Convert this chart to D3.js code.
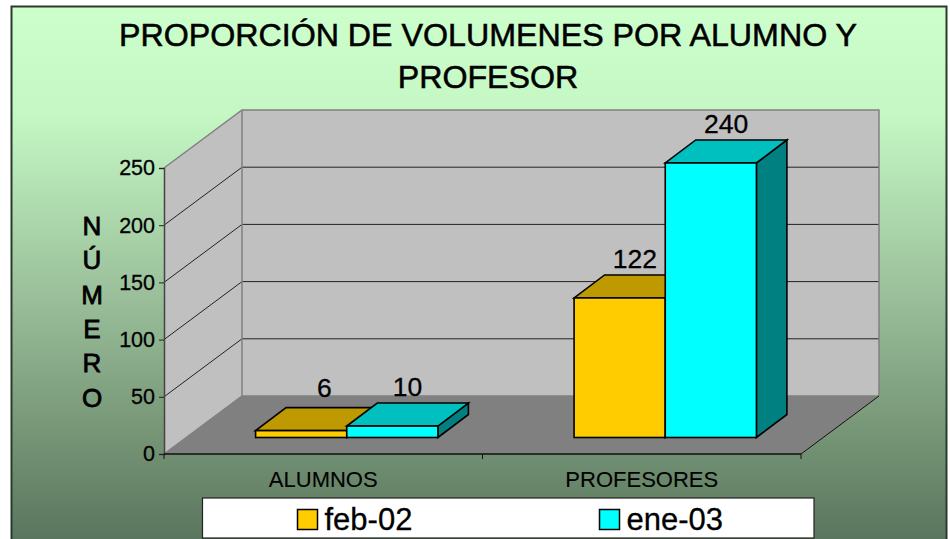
<!DOCTYPE html>
<html><head><meta charset="utf-8">
<script src="https://cdn.jsdelivr.net/npm/d3@7/dist/d3.min.js"></script>
<style>html,body{margin:0;padding:0;background:#fff;overflow:hidden}svg{display:block}text{font-family:"Liberation Sans",Arial,sans-serif;fill:#000;stroke:#000;stroke-width:.3px}.ttl{stroke-width:.55px}.yt{stroke-width:.8px}</style>
</head><body><script>
const categories = ["ALUMNOS", "PROFESORES"];
const seriesNames = ["feb-02", "ene-03"];
const feb02 = [6, 122];
const ene03 = [10, 240];
const yTicks = [0, 50, 100, 150, 200, 250];
const titleLines = ["PROPORCIÓN DE VOLUMENES POR ALUMNO Y", "PROFESOR"];
const yTitle = ["N", "Ú", "M", "E", "R", "O"];
const seriesColors = [
  {front:"#ffcc00", top:"#bf9900", side:"#bf9900"},
  {front:"#00ffff", top:"#00bfbf", side:"#008080"}
];

const W = 950, H = 539;
const svg = d3.select("body").append("svg").attr("width", W).attr("height", H);
const defs = svg.append("defs");
const g = defs.append("linearGradient").attr("id","bg").attr("x1",0).attr("x2",0).attr("y1",0).attr("y2",1);
g.append("stop").attr("offset",0).attr("stop-color","#ccffcc");
g.append("stop").attr("offset",0.2).attr("stop-color","#c4f7c4");
g.append("stop").attr("offset",0.55).attr("stop-color","#97bb97");
g.append("stop").attr("offset",0.75).attr("stop-color","#7a9a7a");
g.append("stop").attr("offset",1).attr("stop-color","#56715a");
svg.append("rect").attr("x",11.5).attr("y",6.5).attr("width",935).attr("height",H+10).attr("fill","url(#bg)").attr("stroke","#2a3a2c").attr("stroke-width",2);

// scales
const x = d3.scaleBand().domain(categories).range([164, 801]);
const y = d3.scaleLinear().domain([0, 250]).range([454, 168]);
const depthX = 78, depthY = -58;
const inner = d3.scaleBand().domain(seriesNames).range([0, x.bandwidth()]).paddingInner(0).paddingOuter(0.747);
const line = d3.line();
const [x0, x1] = x.range();
const y0 = y(0), yT = y(250);

// walls
svg.append("path").attr("d", line([[x0,y0],[x0,yT],[x0+depthX,yT+depthY],[x0+depthX,y0+depthY]])+"Z").attr("fill","#c0c0c0");
svg.append("rect").attr("x",x0+depthX).attr("y",yT+depthY).attr("width",x1-x0).attr("height",y0-yT).attr("fill","#c0c0c0");
svg.append("path").attr("d", line([[x0,y0],[x1,y0],[x1+depthX,y0+depthY],[x0+depthX,y0+depthY]])+"Z").attr("fill","#808080");
// gridlines
yTicks.filter(t=>t>0 && t<250).forEach(t=>{
  const yy=y(t);
  svg.append("path").attr("d", line([[x0,yy],[x0+depthX,yy+depthY],[x1+depthX,yy+depthY]])).attr("fill","none").attr("stroke","#222").attr("stroke-width",1);
});
// wall borders
svg.append("path").attr("d", line([[x0,yT],[x0+depthX,yT+depthY],[x1+depthX,yT+depthY],[x1+depthX,y0+depthY]])).attr("fill","none").attr("stroke","#808080").attr("stroke-width",1.5);
svg.append("path").attr("d", line([[x0,y0],[x0+depthX,y0+depthY],[x1+depthX,y0+depthY]])).attr("fill","none").attr("stroke","#808080").attr("stroke-width",1.5);
svg.append("path").attr("d", line([[x0+depthX,yT+depthY],[x0+depthX,y0+depthY]])).attr("fill","none").attr("stroke","#808080").attr("stroke-width",1.5);
svg.append("path").attr("d", line([[x1,y0],[x1+depthX,y0+depthY]])).attr("fill","none").attr("stroke","#111").attr("stroke-width",1);

// axes
const yAxis = d3.axisLeft(y).tickValues(yTicks).tickSize(5).tickPadding(4);
const ya = svg.append("g").attr("transform",`translate(${x0},0)`).call(yAxis);
ya.select(".domain").attr("stroke","#444").attr("stroke-width",1.5);
ya.selectAll("line").attr("stroke","#222");
ya.selectAll("text").style("font-size","21.5px").attr("fill","#000");
const xAxis = d3.axisBottom(x).tickValues(categories).tickSize(0).tickPadding(17);
const xa = svg.append("g").attr("transform",`translate(0,${y0})`).call(xAxis);
xa.select(".domain").remove();
svg.append("line").attr("x1",x0).attr("x2",x1).attr("y1",y0).attr("y2",y0).attr("stroke","#111").attr("stroke-width",1.5);
xa.selectAll("text").style("font-size","22px").style("stroke-width","0.1px").attr("fill","#000");
const xTickVals = [x0].concat(categories.map(c=>x(c)+x.bandwidth()));
svg.selectAll(".xtick").data(xTickVals).join("line").attr("x1",d=>d).attr("x2",d=>d).attr("y1",y0).attr("y2",y0+5).attr("stroke","#111");

// bars
const barDx = 30.5, barDy = -23, offX = 23.5, offY = -16.5;
const series = [feb02, ene03];
function drawBar(cat, si, v){
  const c = seriesColors[si];
  const l = x(cat) + inner(seriesNames[si]) + offX, r = l + inner.bandwidth();
  const b = y0 + offY, t = b - (y(0) - y(v));
  const gb = svg.append("g").attr("stroke","#000").attr("stroke-width",1.6).attr("stroke-linejoin","miter");
  gb.append("path").attr("d", line([[r,b],[r+barDx,b+barDy],[r+barDx,t+barDy],[r,t]])+"Z").attr("fill",c.side);
  gb.append("path").attr("d", line([[l,t],[r,t],[r+barDx,t+barDy],[l+barDx,t+barDy]])+"Z").attr("fill",c.top);
  gb.append("rect").attr("x",l).attr("y",t).attr("width",r-l).attr("height",b-t).attr("fill",c.front);
  return {cx:(l+r)/2+barDx/2, ty:t+barDy};
}
const labels=[];
categories.forEach((cat,ci)=>{
  series.forEach((s,si)=>{
    const p = drawBar(cat,si,s[ci]);
    // the small front label sits a little right and higher, as in the reference
    const small = si===0 && ci===0;
    labels.push({x:p.cx+(small?8:0),y:p.ty-(small?11:7),v:s[ci]});
  });
});
svg.selectAll(".lab").data(labels).join("text").attr("class","lab").attr("x",d=>d.x).attr("y",d=>d.y).attr("text-anchor","middle").style("font-size","26.5px").text(d=>d.v);

// title
svg.selectAll(".ttl").data(titleLines).join("text").attr("class","ttl").attr("x",488).attr("y",(d,i)=>46+i*42).attr("text-anchor","middle").style("font-size","32.2px").text(d=>d);
// y title
svg.selectAll(".yt").data(yTitle).join("text").attr("class","yt").attr("x",92).attr("y",(d,i)=>235+i*34.3).attr("text-anchor","middle").style("font-size","26px").text(d=>d);

// legend
svg.append("rect").attr("x",202.5).attr("y",498).attr("width",611.5).attr("height",40).attr("fill","#fff").attr("stroke","#222").attr("stroke-width",1.2);
const legendX = [297.5, 599.5];
seriesNames.forEach((n,i)=>{
  svg.append("rect").attr("x",legendX[i]).attr("y",509.5).attr("width",20).attr("height",20).attr("fill",seriesColors[i].front).attr("stroke","#000").attr("stroke-width",1.5);
  svg.append("text").attr("x",legendX[i]+27).attr("y",530).style("font-size","31px").text(n);
});
</script></body></html>
